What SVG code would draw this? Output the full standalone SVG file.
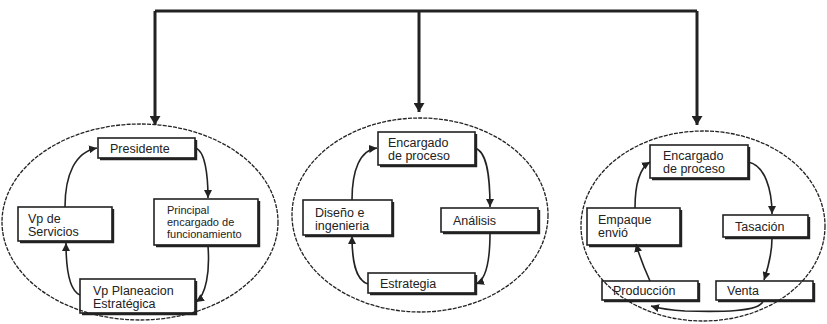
<svg xmlns="http://www.w3.org/2000/svg" width="827" height="324" viewBox="0 0 827 324">
<defs>
<style>
.ell{fill:none;stroke:#222;stroke-width:1.3;stroke-dasharray:4 1.2}
.box{fill:none;stroke:#222;stroke-width:1.6}
.sh{fill:none;stroke:#222;stroke-width:2.4}
.t{font-family:"Liberation Sans",Arial,sans-serif;font-size:12.5px;fill:#222}
.ts{font-family:"Liberation Sans",Arial,sans-serif;font-size:11px;fill:#222}
.top{fill:none;stroke:#222;stroke-width:3}
.c{fill:none;stroke:#222;stroke-width:1.6}
</style>
<marker id="big" viewBox="0 0 10 10" refX="10" refY="5" markerWidth="9" markerHeight="11" markerUnits="userSpaceOnUse" orient="auto" preserveAspectRatio="none"><path d="M0,0 L10,5 L0,10 z" fill="#222"/></marker>
<marker id="sm" viewBox="0 0 10 10" refX="10" refY="5" markerWidth="8" markerHeight="8" markerUnits="userSpaceOnUse" orient="auto" preserveAspectRatio="none"><path d="M0,0 L10,5 L0,10 z" fill="#222"/></marker>
</defs>
<rect width="827" height="324" fill="#fff"/>
<g id="ellipses">
<ellipse class="ell" cx="140" cy="222" rx="138" ry="98"/>
<ellipse class="ell" cx="420" cy="215" rx="128" ry="97"/>
<ellipse class="ell" cx="703" cy="226" rx="122" ry="95"/>
</g>
<g id="connectors">
<path class="top" d="M155,11 H697"/>
<path class="top" d="M155,11 V125" marker-end="url(#big)"/>
<path class="top" d="M419,11 V112" marker-end="url(#big)"/>
<path class="top" d="M697,11 V125" marker-end="url(#big)"/>
<path class="c" d="M195,148 C205,150 208,175 208,198" marker-end="url(#sm)"/>
<path class="c" d="M208,246 C210,272 206,295 196,302" marker-end="url(#sm)"/>
<path class="c" d="M80,295 C68,290 66,265 66,243" marker-end="url(#sm)"/>
<path class="c" d="M65,207 C65,175 75,152 97,148" marker-end="url(#sm)"/>
<path class="c" d="M475,148 C488,152 490,180 490,207" marker-end="url(#sm)"/>
<path class="c" d="M490,233 C490,260 486,280 476,284" marker-end="url(#sm)"/>
<path class="c" d="M368,284 C355,280 352,260 352,236" marker-end="url(#sm)"/>
<path class="c" d="M352,200 C352,170 360,150 377,148" marker-end="url(#sm)"/>
<path class="c" d="M748,162 C765,165 772,190 772,214" marker-end="url(#sm)"/>
<path class="c" d="M772,238 C772,255 768,268 764,280" marker-end="url(#sm)"/>
<path class="c" d="M763,301 C760,312 720,312 685,311 C668,310 658,308 651,306" marker-end="url(#sm)"/>
<path class="c" d="M650,281 C645,270 640,258 636,244" marker-end="url(#sm)"/>
<path class="c" d="M635,208 C635,185 640,168 650,162" marker-end="url(#sm)"/>
</g>
<g id="presidente">
<path class="sh" d="M196,140 V159 H100"/>
<rect class="box" x="98" y="138" width="97" height="20"/>
<text class="t" x="110" y="153">Presidente</text>
</g>
<g id="principal">
<path class="sh" d="M259,201 V246 H156"/>
<rect class="box" x="154" y="199" width="104" height="46"/>
<text class="ts" x="167" y="214">Principal</text>
<text class="ts" x="167" y="226">encargado de</text>
<text class="ts" x="167" y="238">funcionamiento</text>
</g>
<g id="vp-servicios">
<path class="sh" d="M113,209 V242 H20"/>
<rect class="box" x="18" y="207" width="94" height="34"/>
<text class="t" x="28" y="223">Vp de</text>
<text class="t" x="28" y="236">Servicios</text>
</g>
<g id="vp-planeacion">
<path class="sh" d="M196,281 V314 H82"/>
<rect class="box" x="80" y="279" width="115" height="34"/>
<text class="t" x="93" y="295">Vp Planeacion</text>
<text class="t" x="93" y="308">Estratégica</text>
</g>
<g id="encargado-1">
<path class="sh" d="M476,134 V166 H380"/>
<rect class="box" x="378" y="132" width="97" height="33"/>
<text class="t" x="388" y="147">Encargado</text>
<text class="t" x="388" y="160">de proceso</text>
</g>
<g id="analisis">
<path class="sh" d="M539,210 V233 H443"/>
<rect class="box" x="441" y="208" width="97" height="24"/>
<text class="t" x="453" y="225">Análisis</text>
</g>
<g id="diseno">
<path class="sh" d="M393,202 V236 H305"/>
<rect class="box" x="303" y="200" width="89" height="35"/>
<text class="t" x="315" y="217">Diseño e</text>
<text class="t" x="315" y="230">ingenieria</text>
</g>
<g id="estrategia">
<path class="sh" d="M476,275 V294 H370"/>
<rect class="box" x="368" y="273" width="107" height="20"/>
<text class="t" x="380" y="288">Estrategia</text>
</g>
<g id="encargado-2">
<path class="sh" d="M749,147 V179 H652"/>
<rect class="box" x="650" y="145" width="98" height="33"/>
<text class="t" x="663" y="160">Encargado</text>
<text class="t" x="663" y="173">de proceso</text>
</g>
<g id="tasacion">
<path class="sh" d="M809,217 V238 H725"/>
<rect class="box" x="723" y="215" width="85" height="22"/>
<text class="t" x="735" y="231">Tasación</text>
</g>
<g id="empaque">
<path class="sh" d="M681,210 V246 H589"/>
<rect class="box" x="587" y="208" width="93" height="37"/>
<text class="t" x="598" y="224">Empaque</text>
<text class="t" x="598" y="237">envió</text>
</g>
<g id="produccion">
<path class="sh" d="M699,283 V301 H604"/>
<rect class="box" x="602" y="281" width="96" height="19"/>
<text class="t" x="613" y="295">Producción</text>
</g>
<g id="venta">
<path class="sh" d="M814,283 V301 H718"/>
<rect class="box" x="716" y="281" width="97" height="19"/>
<text class="t" x="727" y="295">Venta</text>
</g>
</svg>
